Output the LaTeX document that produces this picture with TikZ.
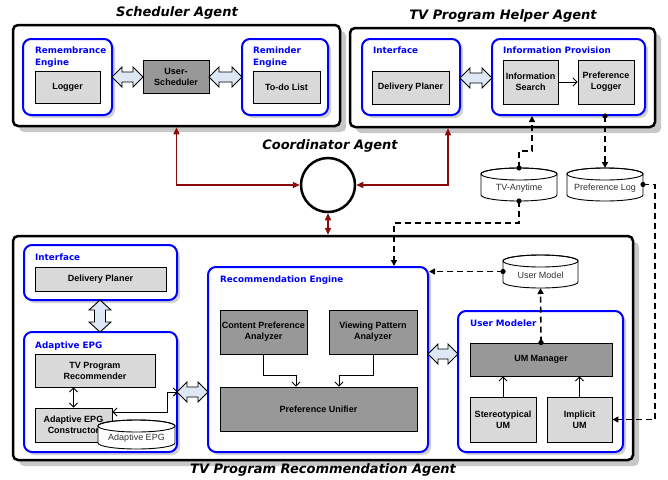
\documentclass[tikz,border=0pt]{standalone}
\usepackage{fontspec}
\setmainfont{Liberation Sans}
\newfontfamily\dejavu{DejaVu Sans}
\usetikzlibrary{arrows.meta,shadows,calc}

\definecolor{lgray}{RGB}{217,217,217}
\definecolor{dgray}{RGB}{152,152,152}
\definecolor{shadowgray}{RGB}{200,200,200}
\definecolor{arrowblue}{RGB}{222,232,244}
\definecolor{darkred}{RGB}{139,10,10}
\definecolor{bluebox}{RGB}{0,0,255}

\tikzset{
  agent/.style={draw=black, line width=2.5pt, rounded corners=5pt, fill=white,
    drop shadow={shadow xshift=6pt, shadow yshift=-6pt, fill=shadowgray, opacity=1}},
  module/.style={draw=bluebox, line width=2pt, rounded corners=8pt, fill=white,
    drop shadow={shadow xshift=3pt, shadow yshift=-3pt, fill=black!18, opacity=1}},
  lbox/.style={draw=black, line width=0.9pt, fill=lgray, inner sep=1pt, align=center,
    font=\fontsize{9}{11}\selectfont\bfseries},
  dbox/.style={lbox, fill=dgray},
  modlabel/.style={anchor=base west, inner sep=0pt, align=left, text=bluebox,
    font=\dejavu\fontsize{8.8}{12}\selectfont\bfseries},
  titletext/.style={inner sep=0pt, font=\dejavu\fontsize{13}{15}\selectfont\bfseries\itshape},
  cyltext/.style={inner sep=0pt, text=black!80, font=\fontsize{9}{10}\selectfont},
  blockarr/.style={draw=black, line width=0.9pt, fill=arrowblue, line join=miter},
  redarr/.style={draw=darkred, line width=1.4pt,
    {Triangle[length=7pt,width=6pt]}-{Triangle[length=7pt,width=6pt]}},
  dasharr/.style={draw=black, line width=1.6pt, dash pattern=on 6pt off 4pt,
    -{Triangle[length=6pt,width=6pt]}},
  thinarr/.style={draw=black, line width=0.9pt, -{Straight Barb[length=4pt,width=8pt]}},
  thindbl/.style={draw=black, line width=0.9pt,
    {Straight Barb[length=4pt,width=8pt]}-{Straight Barb[length=4pt,width=8pt]}},
  dot/.style={fill=black}
}

\newcommand\boxat[6]{\node[#1, minimum width={#4-#2}, minimum height={#5-#3}] (#6) at ({(#2+#4)/2},{(#3+#5)/2})}

% horizontal block double arrow: name, x1, x2, y
\newcommand\hblock[4]{%
  \path[blockarr] ({#2},{#4}) -- ({#2+10},{#4-10}) -- ({#2+10},{#4-5}) -- ({#3-10},{#4-5})
    -- ({#3-10},{#4-10}) -- ({#3},{#4}) -- ({#3-10},{#4+10}) -- ({#3-10},{#4+5})
    -- ({#2+10},{#4+5}) -- ({#2+10},{#4+10}) -- cycle;
  \coordinate (#1) at ({(#2+#3)/2},{#4});
}
% vertical block double arrow: name, x, y1, y2
\newcommand\vblock[4]{%
  \path[blockarr] ({#2},{#3}) -- ({#2+11},{#3+10}) -- ({#2+5.5},{#3+10}) -- ({#2+5.5},{#4-10})
    -- ({#2+11},{#4-10}) -- ({#2},{#4}) -- ({#2-11},{#4-10}) -- ({#2-5.5},{#4-10})
    -- ({#2-5.5},{#3+10}) -- ({#2-11},{#3+10}) -- cycle;
  \coordinate (#1) at ({#2},{(#3+#4)/2});
}

\newcommand\dbcyl[6]{%
  \path[draw=black, line width=0.9pt, fill=white]
    ({#2},{#3+6}) -- ({#2},{#5-6})
    arc[start angle=180, end angle=360, x radius={(#4-#2)/2*1pt}, y radius=6pt]
    -- ({#4},{#3+6})
    arc[start angle=0, end angle=180, x radius={(#4-#2)/2*1pt}, y radius=6pt] -- cycle;
  \draw[line width=0.9pt] ({(#2+#4)/2},{#3+6}) ellipse[x radius={(#4-#2)/2*1pt}, y radius=6pt];
  \node[cyltext] (#1) at ({(#2+#4)/2},{(#3+#5)/2+4}) {#6};
  \coordinate (#1-top) at ({(#2+#4)/2},{#3});
  \coordinate (#1-bot) at ({(#2+#4)/2},{#5});
  \coordinate (#1-left) at ({#2},{(#3+#5)/2});
  \coordinate (#1-right) at ({#4},{(#3+#5)/2});
}

\begin{document}
\begin{tikzpicture}[x=1pt,y=-1pt]
\useasboundingbox (0,0) rectangle (668,479);

% agents
\boxat{agent}{13}{25}{340}{126}{sched}{};
\boxat{agent}{350}{28}{655}{127}{helper}{};
\boxat{agent}{13}{236}{633}{460}{recagent}{};

% titles
\node[titletext] (schedt) at (177,13) {Scheduler Agent};
\node[titletext] (helpert) at (503,16) {TV Program Helper Agent};
\node[titletext] (coordt) at (330,146) {Coordinator Agent};
\node[titletext] (recagentt) at (323,470) {TV Program Recommendation Agent};

% modules
\boxat{module}{23}{39}{112}{115}{remem}{};
\boxat{module}{242}{39}{328}{115}{remind}{};
\boxat{module}{362}{39}{460}{115}{hiface}{};
\boxat{module}{492}{39}{645}{115}{infoprov}{};
\boxat{module}{24}{245}{177}{300}{riface}{};
\boxat{module}{24}{332}{177}{452}{aepg}{};
\boxat{module}{208}{267}{428}{452}{receng}{};
\boxat{module}{458}{311}{623}{452}{umod}{};

% module labels
\node[modlabel] (reml) at (35,65) {Remembrance\\Engine};
\node[modlabel] (reminl) at (253,65) {Reminder\\Engine};
\node[modlabel] (hifacel) at (373,53) {Interface};
\node[modlabel] (infoprovl) at (503,53) {Information Provision};
\node[modlabel] (rifacel) at (35,260) {Interface};
\node[modlabel] (aepgl) at (35,348) {Adaptive EPG};
\node[modlabel] (recengl) at (220,282) {Recommendation Engine};
\node[modlabel] (umodl) at (470,326) {User Modeler};

% inner boxes
\boxat{lbox}{35}{71}{100}{103}{logger}{Logger};
\boxat{dbox}{143}{60}{209}{93}{usched}{User-\\Scheduler};
\boxat{lbox}{253}{71}{320}{103}{todo}{To-do List};
\boxat{lbox}{372}{71}{449}{104}{hdeliv}{Delivery Planer};
\boxat{lbox}{503}{60}{558}{104}{isearch}{Information\\Search};
\boxat{lbox}{578}{60}{634}{104}{plogger}{Preference\\Logger};
\boxat{lbox}{35}{267}{166}{291}{rdeliv}{Delivery Planer};
\boxat{lbox}{35}{354}{155}{387}{tvrec}{TV Program\\Recommender};
\boxat{lbox}{35}{408}{112}{442}{aepgc}{Adaptive EPG\\Constructor};
\boxat{dbox}{220}{310}{307}{354}{cpa}{Content Preference\\Analyzer};
\boxat{dbox}{329}{310}{417}{354}{vpa}{Viewing Pattern\\Analyzer};
\boxat{dbox}{220}{387}{417}{431}{unifier}{Preference Unifier};
\boxat{dbox}{470}{343}{612}{376}{umman}{UM Manager};
\boxat{lbox}{470}{397}{536}{442}{stereo}{Stereotypical\\UM};
\boxat{lbox}{547}{397}{612}{442}{implicit}{Implicit\\UM};

% block arrows
\hblock{ba1}{112}{143}{77}
\hblock{ba2}{209}{242}{77}
\hblock{ba3}{460}{492}{78}
\vblock{ba4}{100}{300}{332}
\hblock{ba5}{177}{208}{392}
\hblock{ba6}{428}{458}{354}

% coordinator
\node[circle, draw=black, line width=2.5pt, minimum size=54pt, inner sep=0pt] (coord) at (328,185) {};
\draw[redarr] (coord.west) -| (sched.south);
\draw[redarr] (coord.east) -| ([xshift=-54.5pt]helper.south);
\draw[redarr] (coord.south) -- (coord.south |- recagent.north);

% thin arrows
\draw[thinarr] (isearch.east) -- (plogger.west);
\draw[thindbl] (aepgc.north) -- (aepgc.north |- tvrec.south);
\draw[thindbl] (aepg.east) -- ++(-11,0) |- ([yshift=13pt]aepgc.east);
\draw[thinarr] (cpa.south) -- ++(0,21) -| ([xshift=-22.5pt]unifier.north);
\draw[thinarr] (vpa.south) -- ++(0,21) -| ([xshift=20.5pt]unifier.north);
\draw[thinarr] (stereo.north) -- (stereo.north |- umman.south);
\draw[thinarr] (implicit.north) -- (implicit.north |- umman.south);

% cylinders
\dbcyl{tva}{481}{168}{557}{201}{TV-Anytime}
\dbcyl{plog}{567}{168}{643}{201}{Preference Log}
\dbcyl{umodel}{503}{255}{578}{288}{User Model}
\dbcyl{aepgdb}{98}{420}{175}{449}{Adaptive EPG}

% dashed connectors
\draw[dasharr] (tva-top) -- ++(0,-17) -| ([xshift=-36.5pt]infoprov.south);
\draw[dasharr] ([xshift=36.5pt]infoprov.south) -- (plog-top);
\draw[dasharr] (plog-right) -- ++(12,0) |- (implicit.east);
\draw[dasharr] (tva-bot) -- ++(0,22) -| ([xshift=76pt]receng.north);
\draw[dasharr] (umman.north) -- (umodel-bot);
\draw[dasharr] (umodel-left) -- (umodel-left -| receng.east);

% dots
\fill[dot] (tva-top) circle[radius=2.6pt];
\fill[dot] (tva-bot) circle[radius=2.6pt];
\fill[dot] ([xshift=36.5pt]infoprov.south) circle[radius=2.6pt];
\fill[dot] (plog-right) circle[radius=2.6pt];
\fill[dot] (umman.north) circle[radius=2.6pt];
\fill[dot] (umodel-left) circle[radius=2.6pt];
\end{tikzpicture}
\end{document}
